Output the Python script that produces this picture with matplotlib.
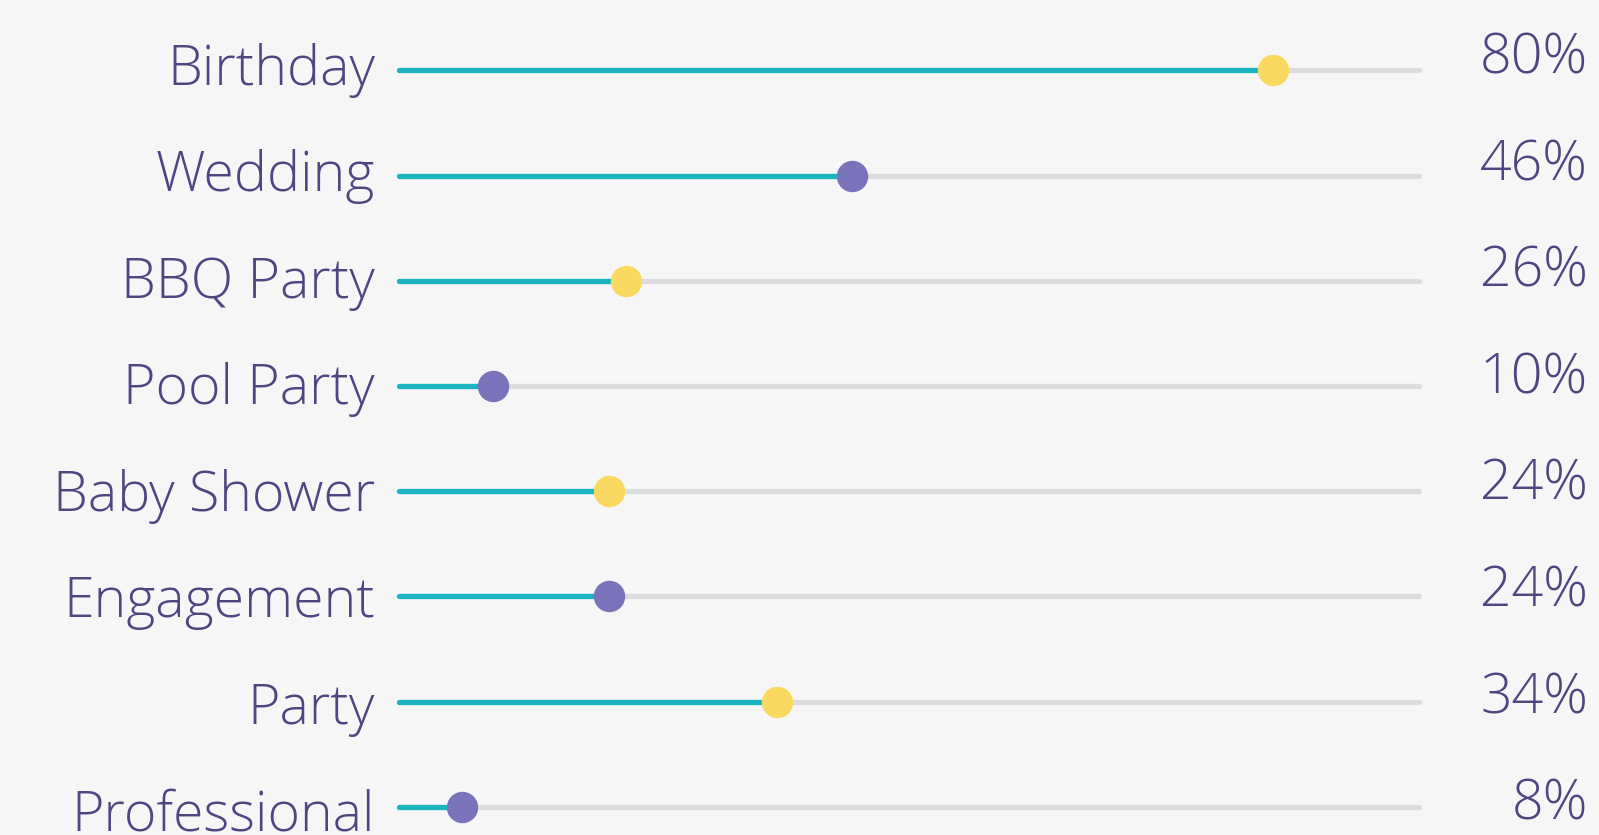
import matplotlib
matplotlib.use("Agg")
import matplotlib.pyplot as plt

# ---- data ----
categories = ["Birthday", "Wedding", "BBQ Party", "Pool Party",
              "Baby Shower", "Engagement", "Party", "Professional"]
value_labels = ["80%", "46%", "26%", "10%", "24%", "24%", "34%", "8%"]
# dot positions along the 0-100 track
positions = [85.7, 44.4, 22.2, 9.2, 20.6, 20.6, 37.0, 6.1]
dot_colors = ["#fad961", "#7a72bb", "#fad961", "#7a72bb",
              "#fad961", "#7a72bb", "#fad961", "#7a72bb"]

# ---- style ----
BG = "#f6f6f6"
TEAL = "#1ab5c1"
TRACK = "#dcdcdc"
TEXT = "#4f4580"
FONT = ["Open Sans", "DejaVu Sans"]
FS = 40

W, H, DPI = 1599, 835, 100
X0, K = 399.3, 10.2          # px of value 0, px per unit
Y0, DY = 70.3, 105.2         # px of first row, px per row

fig = plt.figure(figsize=(W / DPI, H / DPI), dpi=DPI, facecolor=BG)
ax = fig.add_axes([0, 0, 1, 1])
ax.set_facecolor(BG)
ax.set_xlim(-X0 / K, (W - X0) / K)
ax.set_ylim((H - Y0) / DY, -Y0 / DY)
ax.axis("off")

for i, (cat, lab, v, c) in enumerate(zip(categories, value_labels, positions, dot_colors)):
    ax.plot([0, 100], [i, i], color=TRACK, lw=3.8, solid_capstyle="round", zorder=1)
    ax.plot([0, v], [i, i], color=TEAL, lw=3.8, solid_capstyle="round", zorder=2)
    ax.plot([v], [i], "o", ms=22.6, color=c, mec="none", zorder=3)
    yl = (84.5 + i * 106.6 - Y0) / DY
    yr = (73.5 + i * 106.6 - Y0) / DY
    ax.text((375 - X0) / K, yl, cat, ha="right", va="baseline", fontsize=FS,
            color=TEXT, family=FONT, fontweight="light")
    ax.text((1588 - X0) / K, yr, lab, ha="right", va="baseline", fontsize=FS,
            color=TEXT, family=FONT, fontweight="light")

fig.savefig("out.png", dpi=DPI, facecolor=BG)
